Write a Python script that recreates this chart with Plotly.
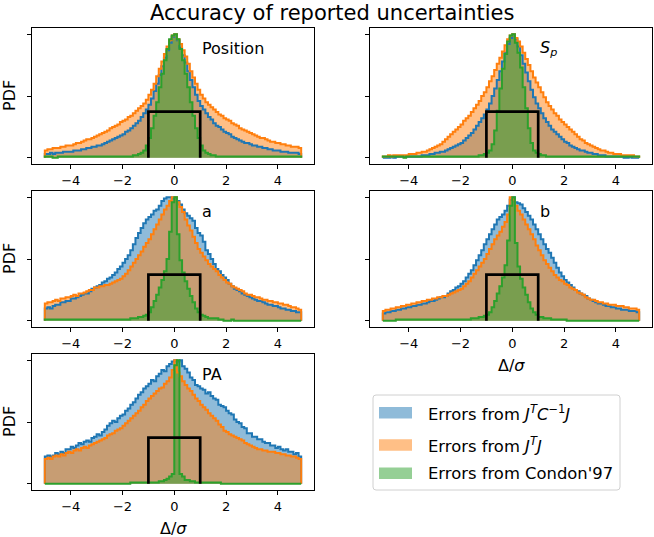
"""
Accuracy of reported uncertainties: normalised histograms of Delta/sigma
for five fitted parameters, three error estimates each.
"""

import numpy as np
import plotly.graph_objects as go

# Data (relative counts per 0.1 bin, bins from -5.0 to 4.9)

bin_edges = np.round(np.arange(-5.0, 4.95, 0.1), 1)

panel_names = ["Position", "<i>S</i><sub><i>p</i></sub>", "a", "b", "PA"]
series_names = [
    "Errors from <i>J</i><sup><i>T</i></sup><i>C</i><sup>−1</sup><i>J</i>",
    "Errors from <i>J</i><sup><i>T</i></sup><i>J</i>",
    "Errors from Condon'97",
]

pos_cinv = [3, 3, 4, 3, 4, 4, 4, 5, 5, 5, 5, 6, 6, 6, 7, 7, 8, 8, 9, 9,
            10, 10, 11, 12, 13, 14, 15, 16, 17, 18, 19, 21, 22, 24, 26, 28, 30, 33, 36, 39,
            43, 48, 54, 60, 67, 74, 81, 87, 93, 98,
            100, 95, 89, 83, 77, 70, 63, 57, 51, 46, 42, 39, 36, 33, 31, 28, 26, 25, 23, 21,
            20, 19, 17, 16, 15, 14, 13, 12, 12, 11, 10, 10, 9, 9, 8, 8, 7, 7, 6, 6,
            6, 5, 5, 5, 4, 4, 4, 4, 3]
pos_jtj = [6, 7, 7, 8, 8, 8, 9, 9, 10, 10, 10, 11, 12, 12, 13, 14, 15, 15, 16, 17,
           18, 19, 20, 21, 22, 24, 25, 26, 27, 29, 30, 31, 33, 34, 36, 38, 40, 42, 44, 47,
           51, 55, 60, 66, 72, 78, 84, 90, 95, 99,
           100, 96, 92, 87, 82, 76, 70, 65, 60, 55, 51, 48, 45, 43, 41, 39, 37, 35, 34, 32,
           31, 30, 28, 27, 26, 24, 23, 22, 21, 20, 19, 18, 17, 16, 16, 15, 14, 13, 13, 12,
           12, 11, 11, 10, 10, 9, 9, 9, 8]
pos_condon = [1, 1, 1, 0, 0, 1, 1, 1, 1, 1, 1, 1, 1, 1, 1, 1, 1, 1, 1, 1,
              1, 1, 1, 1, 1, 1, 1, 1, 1, 1, 1, 1, 1, 1, 2, 2, 3, 4, 6, 10,
              16, 24, 34, 45, 57, 68, 79, 88, 96, 99,
              100, 96, 88, 79, 68, 57, 45, 34, 24, 16, 10, 6, 4, 3, 2, 2, 1, 1, 1, 1,
              1, 1, 1, 1, 1, 1, 1, 1, 1, 1, 1, 1, 1, 1, 1, 1, 1, 1, 1, 1,
              1, 1, 1, 1, 1, 1, 1, 1, 1]

sp_cinv = [0, 0, 0, 1, 0, 1, 1, 1, 1, 1, 1, 1, 1, 1, 1, 2, 2, 2, 3, 3,
           4, 4, 5, 5, 6, 7, 8, 9, 10, 11, 12, 14, 16, 18, 20, 23, 26, 29, 32, 35,
           39, 44, 50, 56, 63, 70, 78, 85, 92, 97,
           100, 96, 90, 83, 76, 69, 62, 55, 49, 44, 40, 36, 32, 29, 26, 23, 21, 19, 17, 15,
           13, 12, 10, 9, 8, 7, 6, 6, 5, 4, 4, 3, 3, 2, 2, 2, 1, 1, 1, 1,
           1, 1, 1, 0, 0, 1, 0, 0, 0]
sp_jtj = [1, 1, 2, 1, 2, 2, 2, 2, 2, 2, 3, 3, 3, 4, 4, 5, 5, 6, 7, 8,
          9, 10, 11, 13, 15, 17, 19, 21, 23, 25, 27, 30, 32, 34, 37, 40, 43, 46, 50, 53,
          57, 62, 66, 71, 76, 81, 86, 91, 96, 99,
          100, 97, 94, 90, 85, 80, 75, 70, 65, 61, 57, 53, 49, 45, 42, 39, 36, 34, 31, 29,
          27, 25, 23, 21, 19, 17, 15, 14, 12, 11, 10, 9, 8, 7, 6, 6, 5, 4, 4, 3,
          3, 3, 2, 2, 2, 2, 2, 1, 1]
sp_condon = [1, 1, 1, 1, 1, 1, 1, 1, 0, 1, 1, 1, 1, 1, 1, 1, 1, 1, 1, 1,
             1, 1, 1, 1, 1, 1, 1, 1, 1, 1, 1, 1, 1, 1, 1, 1, 1, 2, 2, 3,
             4, 6, 11, 22, 38, 56, 72, 84, 94, 99,
             100, 93, 85, 73, 57, 40, 24, 12, 6, 4, 3, 2, 2, 1, 1, 1, 1, 1, 1, 1,
             1, 1, 1, 1, 1, 1, 1, 1, 1, 1, 1, 1, 1, 1, 1, 1, 1, 1, 1, 1,
             1, 1, 1, 1, 1, 1, 1, 1, 1]

a_cinv = [10, 11, 10, 12, 13, 13, 15, 15, 16, 16, 18, 18, 19, 20, 21, 22, 22, 24, 26, 27,
          28, 29, 31, 32, 34, 35, 37, 39, 42, 44, 47, 50, 53, 57, 62, 67, 71, 75, 79, 82,
          84, 86, 89, 90, 93, 97, 99, 100, 100, 99,
          100, 97, 94, 90, 87, 85, 83, 81, 75, 71, 69, 64, 57, 54, 50, 46, 42, 40, 37, 35,
          33, 30, 28, 26, 25, 24, 22, 21, 20, 19, 18, 17, 16, 16, 15, 14, 13, 13, 12, 12,
          11, 10, 10, 9, 9, 8, 8, 7, 7]
a_jtj = [14, 15, 15, 16, 17, 16, 18, 18, 19, 19, 20, 21, 20, 22, 22, 23, 24, 25, 25, 27,
         27, 28, 28, 29, 29, 30, 31, 32, 33, 34, 36, 38, 41, 44, 47, 50, 53, 56, 60, 63,
         66, 70, 74, 78, 82, 86, 90, 93, 97, 100,
         100, 96, 92, 88, 82, 77, 73, 68, 63, 58, 55, 52, 49, 46, 44, 42, 40, 37, 35, 33,
         31, 30, 28, 27, 26, 25, 24, 22, 21, 21, 20, 19, 19, 18, 17, 17, 16, 16, 15, 15,
         14, 14, 13, 13, 12, 11, 11, 10, 9]
a_condon = [1, 1, 1, 1, 1, 1, 1, 1, 1, 1, 1, 1, 1, 1, 1, 1, 1, 1, 1, 1,
            1, 1, 1, 1, 1, 1, 1, 1, 1, 1, 1, 1, 1, 2, 2, 2, 3, 3, 4, 5,
            7, 11, 16, 21, 27, 33, 40, 50, 72, 96,
            100, 70, 49, 39, 32, 26, 20, 15, 10, 7, 5, 4, 3, 2, 2, 2, 2, 1, 1, 0,
            0, 0, 1, 0, 0, 0, 0, 0, 0, 0, 0, 0, 0, 0, 0, 0, 0, 0, 0, 0,
            0, 0, 0, 0, 0, 0, 0, 0, 0]

b_cinv = [6, 7, 7, 8, 8, 9, 9, 10, 10, 11, 11, 12, 12, 13, 13, 14, 14, 15, 16, 16,
          17, 18, 19, 19, 20, 22, 24, 25, 27, 28, 30, 32, 35, 38, 41, 45, 49, 53, 57, 62,
          66, 70, 74, 78, 82, 84, 86, 89, 93, 98,
          100, 96, 95, 94, 91, 88, 85, 82, 78, 74, 70, 66, 62, 58, 55, 51, 47, 43, 39, 36,
          33, 31, 29, 27, 25, 24, 22, 21, 20, 18, 17, 16, 15, 14, 14, 13, 12, 12, 11, 11,
          10, 10, 9, 9, 9, 8, 8, 8, 7]
b_jtj = [8, 9, 9, 10, 10, 11, 11, 12, 12, 13, 13, 14, 14, 15, 15, 16, 16, 17, 17, 18,
         18, 19, 19, 20, 20, 21, 22, 23, 24, 25, 26, 28, 30, 32, 35, 38, 41, 44, 47, 50,
         54, 58, 62, 66, 69, 72, 76, 80, 86, 100,
         98, 93, 89, 86, 82, 78, 74, 70, 66, 61, 57, 53, 49, 46, 43, 40, 37, 35, 33, 32,
         30, 29, 27, 26, 25, 23, 22, 21, 19, 18, 17, 17, 16, 15, 15, 14, 14, 13, 13, 13,
         12, 12, 12, 11, 11, 10, 10, 10, 9]
b_condon = [0, 0, 0, 0, 0, 1, 1, 1, 1, 1, 1, 1, 1, 1, 1, 1, 1, 1, 1, 1,
            1, 1, 1, 1, 1, 1, 1, 1, 1, 1, 1, 1, 1, 1, 2, 2, 2, 3, 3, 4,
            5, 7, 11, 16, 22, 28, 35, 45, 65, 93,
            100, 63, 44, 34, 27, 21, 15, 10, 7, 5, 3, 3, 2, 2, 2, 1, 1, 1, 1, 1,
            1, 0, 0, 0, 0, 0, 0, 0, 0, 0, 0, 0, 0, 0, 0, 0, 0, 0, 0, 0,
            0, 0, 0, 0, 0, 0, 0, 0, 0]

pa_cinv = [22, 23, 22, 23, 25, 24, 26, 25, 28, 28, 30, 29, 31, 33, 32, 34, 35, 34, 37, 38,
           40, 39, 42, 44, 47, 49, 51, 50, 53, 55, 56, 59, 61, 64, 66, 69, 72, 74, 77, 79,
           81, 84, 83, 87, 89, 92, 91, 95, 97, 99,
           100, 99, 100, 95, 93, 90, 86, 84, 80, 79, 77, 76, 73, 74, 71, 69, 68, 64, 63, 62,
           59, 57, 56, 52, 50, 49, 46, 45, 41, 41, 38, 38, 36, 36, 34, 33, 33, 31, 31, 29,
           30, 28, 27, 28, 26, 26, 24, 25, 22]
pa_jtj = [20, 21, 20, 22, 23, 22, 24, 23, 25, 26, 25, 27, 28, 27, 29, 30, 29, 31, 32, 33,
          34, 35, 36, 37, 39, 40, 41, 43, 44, 45, 47, 49, 51, 53, 55, 57, 59, 62, 64, 67,
          69, 71, 73, 75, 77, 78, 81, 83, 86, 92,
          100, 90, 87, 83, 80, 77, 75, 72, 69, 67, 64, 62, 60, 57, 55, 53, 51, 48, 46, 43,
          42, 40, 39, 38, 37, 36, 35, 33, 32, 31, 30, 29, 28, 28, 27, 27, 26, 26, 26, 25,
          25, 24, 24, 23, 23, 22, 22, 21, 20]
pa_condon = [0, 0, 0, 0, 0, 0, 0, 0, 0, 0, 0, 0, 0, 0, 0, 0, 0, 0, 0, 0,
             0, 0, 0, 0, 0, 0, 0, 0, 0, 0, 0, 0, 0, 1, 1, 1, 1, 1, 1, 1,
             1, 1, 1, 1, 2, 2, 3, 4, 6, 8, 96,
             100, 8, 6, 3, 3, 2, 2, 1, 1, 1, 1, 1, 1, 1, 1, 1, 1, 0, 0, 0,
             0, 0, 0, 0, 0, 0, 0, 0, 0, 0, 0, 0, 0, 0, 0, 0, 0, 0, 0, 0,
             0, 0, 0, 0, 0, 0, 0, 0]

# unit top-hat reference drawn on every panel
tophat_x = [-1.0, 1.0]
tophat_height = 0.374

# Style

W, H = 654, 537
FONT = "DejaVu Sans"
LINE_COLORS = ["#1f77b4", "#ff7f0e", "#2ca02c"]
FILL_COLORS = ["rgba(31,119,180,0.5)", "rgba(255,127,14,0.5)", "rgba(44,160,44,0.5)"]

# panel boxes in pixels: left, right, top, bottom
PANEL_BOXES = [
    (32, 314, 28, 164),
    (370, 652, 28, 164),
    (32, 314, 191, 327),
    (370, 652, 191, 327),
    (32, 314, 354, 490),
]


def px(x):
    return x / W


def py(y):
    return 1 - y / H


def step_outline(values):
    """Closed step outline of a histogram, normalised to its peak."""
    v = np.asarray(values, dtype=float)
    v = v / v.max()
    xs = np.concatenate([[bin_edges[0]], bin_edges[:-1], [bin_edges[-1]], [bin_edges[-1]]])
    ys = np.concatenate([[0.0], v, [v[-1]], [0.0]])
    return xs, ys


def add_panel(fig, k, series):
    xa = "x" if k == 0 else f"x{k + 1}"
    ya = "y" if k == 0 else f"y{k + 1}"

    outlines = [step_outline(s) for s in series]

    # fills first, outlines on top
    for (xs, ys), fc in zip(outlines, FILL_COLORS):
        fig.add_trace(go.Scatter(
            x=xs, y=ys, mode="lines", line=dict(width=0, shape="hv"),
            fill="tozeroy", fillcolor=fc, xaxis=xa, yaxis=ya,
            showlegend=False, hoverinfo="skip",
        ))
    for (xs, ys), lc in zip(outlines, LINE_COLORS):
        fig.add_trace(go.Scatter(
            x=xs, y=ys, mode="lines", line=dict(width=2, color=lc, shape="hv"),
            xaxis=xa, yaxis=ya, showlegend=False, hoverinfo="skip",
        ))

    fig.add_trace(go.Scatter(
        x=[tophat_x[0], tophat_x[0], tophat_x[1], tophat_x[1]],
        y=[0, tophat_height, tophat_height, 0],
        mode="lines", line=dict(width=2.7, color="black"),
        xaxis=xa, yaxis=ya, showlegend=False, hoverinfo="skip",
    ))

    l, r, t, b = PANEL_BOXES[k]
    axis_common = dict(
        showline=True, mirror=True, linecolor="black", linewidth=1,
        ticks="outside", ticklen=4, tickwidth=1, tickcolor="black",
        showgrid=False, zeroline=False,
        tickfont=dict(family=FONT, size=13, color="black"),
    )
    fig.update_layout({
        ("xaxis" if k == 0 else f"xaxis{k + 1}"): dict(
            domain=[px(l), px(r)], anchor=ya, range=[-5.495, 5.395],
            tickvals=[-4, -2, 0, 2, 4], **axis_common,
        ),
        ("yaxis" if k == 0 else f"yaxis{k + 1}"): dict(
            domain=[py(b), py(t)], anchor=xa, range=[-0.05, 1.05],
            tickvals=[0, 0.5, 1], showticklabels=False, **axis_common,
        ),
    })

    fig.add_annotation(
        x=1.0, y=0.885, xref=xa, yref=ya, text=panel_names[k],
        xanchor="left", yanchor="middle", showarrow=False,
        font=dict(family=FONT, size=16, color="black"),
    )

    if k in (0, 2, 4):
        fig.add_annotation(
            x=px(9), y=py((t + b) / 2), xref="paper", yref="paper",
            text="PDF", textangle=-90, showarrow=False,
            xanchor="center", yanchor="middle",
            font=dict(family=FONT, size=16, color="black"),
        )
    if k in (3, 4):
        fig.add_annotation(
            x=px((l + r) / 2), y=py(b + 27), xref="paper", yref="paper",
            text="Δ/<i>σ</i>", showarrow=False,
            xanchor="center", yanchor="top",
            font=dict(family=FONT, size=16, color="black"),
        )


def add_legend(fig):
    # frame with rounded corners
    x0, x1, y0, y1 = px(373), px(620), py(395), py(490)
    rx, ry = 3 / W, 3 / H
    path = (
        f"M {x0 + rx},{y0} L {x1 - rx},{y0} Q {x1},{y0} {x1},{y0 - ry} "
        f"L {x1},{y1 + ry} Q {x1},{y1} {x1 - rx},{y1} "
        f"L {x0 + rx},{y1} Q {x0},{y1} {x0},{y1 + ry} "
        f"L {x0},{y0 - ry} Q {x0},{y0} {x0 + rx},{y0} Z"
    )
    fig.add_shape(type="path", path=path, xref="paper", yref="paper",
                  line=dict(color="#d0d0d0", width=1), fillcolor="white")

    rows = [412.7, 445, 473.3]
    for name, fc, yc in zip(series_names, FILL_COLORS, rows):
        fig.add_shape(type="rect", xref="paper", yref="paper",
                      x0=px(379), x1=px(412), y0=py(yc - 5.75), y1=py(yc + 5.75),
                      line=dict(width=0), fillcolor=fc)
        fig.add_annotation(
            x=px(426), y=py(yc), xref="paper", yref="paper", text=name,
            xanchor="left", yanchor="middle", showarrow=False,
            font=dict(family=FONT, size=16.4, color="black"),
        )


def build_figure():
    panels = [
        [pos_cinv, pos_jtj, pos_condon],
        [sp_cinv, sp_jtj, sp_condon],
        [a_cinv, a_jtj, a_condon],
        [b_cinv, b_jtj, b_condon],
        [pa_cinv, pa_jtj, pa_condon],
    ]

    fig = go.Figure()
    for k, series in enumerate(panels):
        add_panel(fig, k, series)

    add_legend(fig)

    # title box kept just inside the top edge
    fig.add_annotation(
        x=px(331.5), y=py(0.5), xref="paper", yref="paper",
        text="Accuracy of reported uncertainties", showarrow=False,
        xanchor="center", yanchor="top", borderpad=0,
        font=dict(family=FONT, size=21, color="black"),
    )

    fig.update_layout(
        width=W, height=H, autosize=False,
        margin=dict(l=0, r=0, t=0, b=0),
        paper_bgcolor="white", plot_bgcolor="white",
        showlegend=False,
    )
    return fig


if __name__ == "__main__":
    fig = build_figure()
    # page body has a default 8px margin; drop it so the figure fills the window
    fig.write_html(
        "out.html",
        config={"displayModeBar": False},
        post_script="document.body.style.margin='0px';document.body.style.overflow='hidden';",
    )
